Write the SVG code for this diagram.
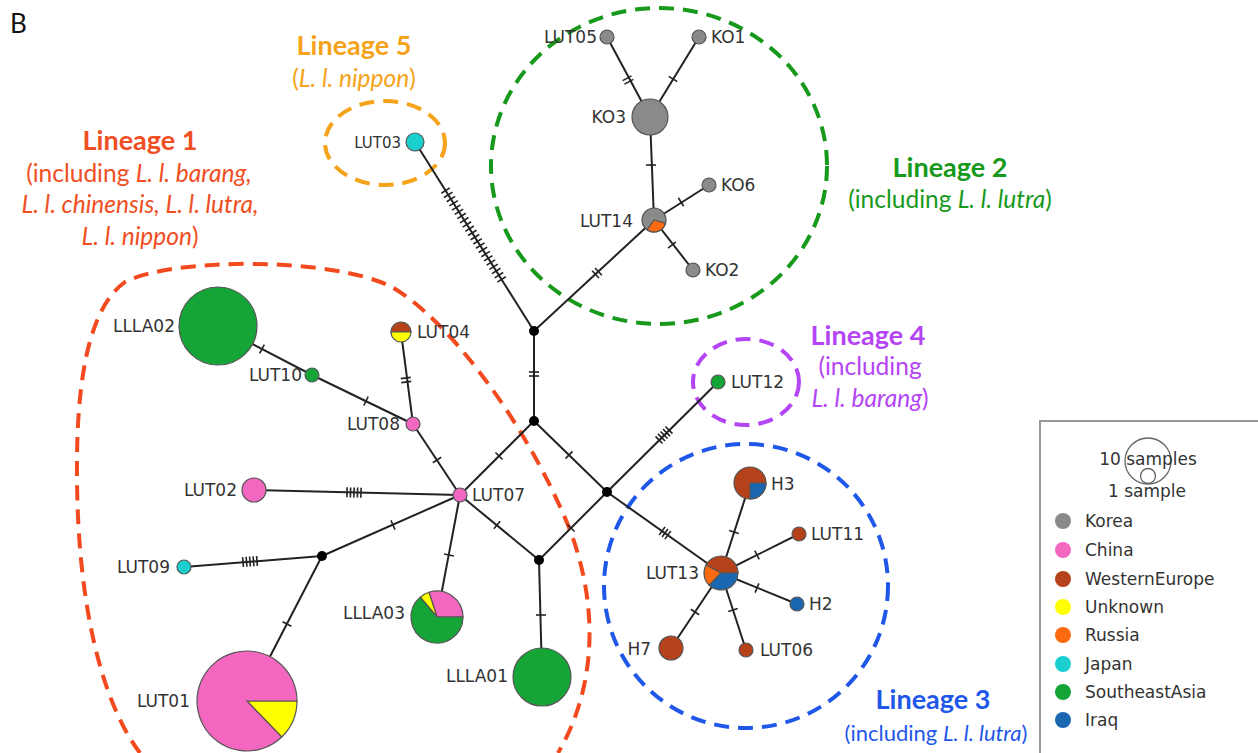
<svg xmlns="http://www.w3.org/2000/svg" xmlns:xlink="http://www.w3.org/1999/xlink" width="1258" height="753" viewBox="0 0 1258 753">
  <style>
    .edge { stroke: #222; stroke-width: 2; fill: none; }
    .tk line { stroke: #222; stroke-width: 1.6; }
    .nd { stroke: #555; stroke-width: 1.2; }
    .jn { fill: #000; }
    .lbl { font-family: "DejaVu Sans", Verdana, sans-serif; font-size: 17px; fill: #333; }
    .lbl.small { font-size: 15px; }
    .title { font-family: Lato, "Open Sans", sans-serif; font-weight: bold; font-size: 27px; text-anchor: middle; }
    .sub { font-family: Lato, "Open Sans", sans-serif; font-size: 24.5px; text-anchor: middle; }
    .sub.narrow { font-size: 22px; }
    .it { font-style: italic; }
    .ring { fill: none; stroke-width: 4; stroke-dasharray: 15 9; }
    .korea { fill: #8a8a8a; }
    .china { fill: #f467c0; }
    .weu { fill: #b5421b; }
    .unk { fill: #ffff00; }
    .rus { fill: #fd6a10; }
    .jpn { fill: #1ccfcf; }
    .sea { fill: #15a537; }
    .irq { fill: #1a66b0; }
  </style>
  <defs>
    <g id="t1" class="tk"><line x1="0" y1="-5" x2="0" y2="5"/></g>
    <g id="t2" class="tk"><line x1="-2" y1="-5" x2="-2" y2="5"/><line x1="2" y1="-5" x2="2" y2="5"/></g>
    <g id="t3" class="tk"><line x1="-3.5" y1="-5" x2="-3.5" y2="5"/><line x1="0" y1="-5" x2="0" y2="5"/><line x1="3.5" y1="-5" x2="3.5" y2="5"/></g>
    <g id="t5" class="tk"><line x1="-7" y1="-5" x2="-7" y2="5"/><line x1="-3.5" y1="-5" x2="-3.5" y2="5"/><line x1="0" y1="-5" x2="0" y2="5"/><line x1="3.5" y1="-5" x2="3.5" y2="5"/><line x1="7" y1="-5" x2="7" y2="5"/></g>
  </defs>

  <rect width="1258" height="753" fill="#fff"/>

  <text x="10" y="33" font-family="Lato, 'Open Sans', sans-serif" font-size="26" fill="#111">B</text>

  <!-- lineage outlines -->
  <g id="lineage-outlines">
    <path class="ring" stroke="#f24a1e" d="M140,753 C100,700 78,600 77,480 C76,390 86,310 125,282 C170,258 330,256 392,287 C452,322 530,430 570,530 C600,610 595,690 558,753"/>
    <ellipse class="ring" stroke="#f5a31a" cx="385" cy="143" rx="60" ry="42"/>
    <ellipse class="ring" stroke="#17991c" cx="659" cy="166" rx="168" ry="158"/>
    <ellipse class="ring" stroke="#b445f5" cx="746" cy="382" rx="53" ry="43"/>
    <ellipse class="ring" stroke="#1f57e8" cx="746" cy="586" rx="142" ry="142"/>
  </g>

  <!-- lineage captions -->
  <g id="lineage-labels">
    <text class="title" x="354" y="55" fill="#f5a31a">Lineage 5</text>
    <text class="sub" x="354" y="87" fill="#f5a31a">(<tspan class="it">L. l. nippon</tspan>)</text>

    <text class="title" x="140" y="150" fill="#f04e23">Lineage 1</text>
    <text class="sub" x="139" y="182" fill="#f04e23">(including <tspan class="it">L. l. barang,</tspan></text>
    <text class="sub it" x="140" y="213" fill="#f04e23">L. l. chinensis, L. l. lutra,</text>
    <text class="sub" x="140" y="245" fill="#f04e23"><tspan class="it">L. l. nippon</tspan>)</text>

    <text class="title" x="950" y="177" fill="#17991c">Lineage 2</text>
    <text class="sub" x="950" y="208" fill="#17991c">(including  <tspan class="it">L. l. lutra</tspan>)</text>

    <text class="title" x="868" y="345" fill="#b445f5">Lineage 4</text>
    <text class="sub" x="870" y="375" fill="#b445f5">(including</text>
    <text class="sub" x="870" y="407" fill="#b445f5"><tspan class="it">L. l. barang</tspan>)</text>

    <text class="title" x="933" y="709" fill="#1f57e8">Lineage 3</text>
    <text class="sub narrow" x="936" y="741" fill="#1f57e8">(including <tspan class="it">L. l. lutra</tspan>)</text>
  </g>

  <!-- connectors with mutation ticks -->
  <g id="connectors">
    <line class="edge" x1="415" y1="142" x2="534" y2="331"/>
    <line class="edge" x1="534" y1="331" x2="654" y2="220"/>
    <line class="edge" x1="654" y1="220" x2="650" y2="117"/>
    <line class="edge" x1="650" y1="117" x2="607" y2="37"/>
    <line class="edge" x1="650" y1="117" x2="699" y2="37"/>
    <line class="edge" x1="654" y1="220" x2="709" y2="185"/>
    <line class="edge" x1="654" y1="220" x2="693" y2="270"/>
    <line class="edge" x1="534" y1="331" x2="534" y2="421"/>
    <line class="edge" x1="534" y1="421" x2="607" y2="492"/>
    <line class="edge" x1="534" y1="421" x2="460" y2="495"/>
    <line class="edge" x1="607" y1="492" x2="539" y2="560"/>
    <line class="edge" x1="460" y1="495" x2="539" y2="560"/>
    <line class="edge" x1="607" y1="492" x2="718" y2="382"/>
    <line class="edge" x1="607" y1="492" x2="721" y2="573"/>
    <line class="edge" x1="539" y1="560" x2="542" y2="677"/>
    <line class="edge" x1="721" y1="573" x2="750" y2="483"/>
    <line class="edge" x1="721" y1="573" x2="799" y2="534"/>
    <line class="edge" x1="721" y1="573" x2="797" y2="604"/>
    <line class="edge" x1="721" y1="573" x2="746" y2="650"/>
    <line class="edge" x1="721" y1="573" x2="671" y2="648"/>
    <line class="edge" x1="460" y1="495" x2="413" y2="424"/>
    <line class="edge" x1="413" y1="424" x2="401" y2="332"/>
    <line class="edge" x1="413" y1="424" x2="312" y2="375"/>
    <line class="edge" x1="312" y1="375" x2="218" y2="326"/>
    <line class="edge" x1="460" y1="495" x2="254" y2="490"/>
    <line class="edge" x1="460" y1="495" x2="322" y2="556"/>
    <line class="edge" x1="460" y1="495" x2="437" y2="617"/>
    <line class="edge" x1="322" y1="556" x2="184" y2="567"/>
    <line class="edge" x1="322" y1="556" x2="247" y2="701"/>

    <!-- long run of ticks toward LUT03 -->
    <g class="tk" transform="translate(473.6,235) rotate(57.8)">
      <line x1="-52.5" y1="-5" x2="-52.5" y2="5"/><line x1="-47.5" y1="-5" x2="-47.5" y2="5"/>
      <line x1="-42.5" y1="-5" x2="-42.5" y2="5"/><line x1="-37.5" y1="-5" x2="-37.5" y2="5"/>
      <line x1="-32.5" y1="-5" x2="-32.5" y2="5"/><line x1="-27.5" y1="-5" x2="-27.5" y2="5"/>
      <line x1="-22.5" y1="-5" x2="-22.5" y2="5"/><line x1="-17.5" y1="-5" x2="-17.5" y2="5"/>
      <line x1="-12.5" y1="-5" x2="-12.5" y2="5"/><line x1="-7.5" y1="-5" x2="-7.5" y2="5"/>
      <line x1="-2.5" y1="-5" x2="-2.5" y2="5"/><line x1="2.5" y1="-5" x2="2.5" y2="5"/>
      <line x1="7.5" y1="-5" x2="7.5" y2="5"/><line x1="12.5" y1="-5" x2="12.5" y2="5"/>
      <line x1="17.5" y1="-5" x2="17.5" y2="5"/><line x1="22.5" y1="-5" x2="22.5" y2="5"/>
      <line x1="27.5" y1="-5" x2="27.5" y2="5"/><line x1="32.5" y1="-5" x2="32.5" y2="5"/>
      <line x1="37.5" y1="-5" x2="37.5" y2="5"/><line x1="42.5" y1="-5" x2="42.5" y2="5"/>
      <line x1="47.5" y1="-5" x2="47.5" y2="5"/><line x1="52.5" y1="-5" x2="52.5" y2="5"/>
    </g>
    <use href="#t2" transform="translate(597,273) rotate(-42.8)"/>
    <use href="#t1" transform="translate(651,165) rotate(90)"/>
    <use href="#t2" transform="translate(628,80) rotate(61.7)"/>
    <use href="#t1" transform="translate(673,79) rotate(-58.5)"/>
    <use href="#t1" transform="translate(681,202) rotate(-32.5)"/>
    <use href="#t1" transform="translate(672,245) rotate(52)"/>
    <use href="#t2" transform="translate(534,374) rotate(90)"/>
    <use href="#t1" transform="translate(569,455) rotate(44.2)"/>
    <use href="#t1" transform="translate(499,456) rotate(135)"/>
    <use href="#t1" transform="translate(571,528) rotate(135)"/>
    <use href="#t1" transform="translate(497,525) rotate(39.4)"/>
    <use href="#t5" transform="translate(664,435) rotate(-44.7)"/>
    <use href="#t3" transform="translate(665,533) rotate(35.7)"/>
    <use href="#t1" transform="translate(541,615) rotate(90)"/>
    <use href="#t1" transform="translate(734,532) rotate(-72)"/>
    <use href="#t1" transform="translate(757,555) rotate(-26.6)"/>
    <use href="#t1" transform="translate(757,588) rotate(22.2)"/>
    <use href="#t1" transform="translate(733,610) rotate(72)"/>
    <use href="#t1" transform="translate(695,612) rotate(123.7)"/>
    <use href="#t1" transform="translate(437,460) rotate(56.5)"/>
    <use href="#t2" transform="translate(406,380) rotate(-97.4)"/>
    <use href="#t1" transform="translate(366,401) rotate(25.9)"/>
    <use href="#t1" transform="translate(262,349) rotate(27.5)"/>
    <use href="#t5" transform="translate(354,492.5) rotate(1.4)"/>
    <use href="#t1" transform="translate(393,525) rotate(156)"/>
    <use href="#t1" transform="translate(449,555) rotate(100.7)"/>
    <use href="#t5" transform="translate(250,561.5) rotate(175.4)"/>
    <use href="#t1" transform="translate(287,624) rotate(117.4)"/>
  </g>

  <!-- median vectors -->
  <g id="junctions">
    <circle class="jn" cx="534" cy="331" r="5"/>
    <circle class="jn" cx="534" cy="421" r="5"/>
    <circle class="jn" cx="607" cy="492" r="5"/>
    <circle class="jn" cx="539" cy="560" r="5"/>
    <circle class="jn" cx="322" cy="556" r="5"/>
  </g>

  <!-- haplotypes -->
  <g id="LUT03"><circle class="nd jpn" cx="415" cy="142" r="9"/><text class="lbl small" x="401" y="148" text-anchor="end">LUT03</text></g>
  <g id="LUT05"><circle class="nd korea" cx="607" cy="37" r="7"/><text class="lbl" x="597" y="43" text-anchor="end">LUT05</text></g>
  <g id="KO1"><circle class="nd korea" cx="699" cy="37" r="7"/><text class="lbl" x="711" y="43">KO1</text></g>
  <g id="KO3"><circle class="nd korea" cx="650" cy="117" r="18"/><text class="lbl" x="626" y="123" text-anchor="end">KO3</text></g>
  <g id="KO6"><circle class="nd korea" cx="709" cy="185" r="7"/><text class="lbl" x="721" y="191">KO6</text></g>
  <g id="LUT14">
    <circle class="nd korea" cx="654" cy="220" r="12"/>
    <path class="nd rus" d="M654,220 L665.6,223.1 A12,12 0 0 1 647.1,229.8 Z"/>
    <text class="lbl" x="633" y="227" text-anchor="end">LUT14</text>
  </g>
  <g id="KO2"><circle class="nd korea" cx="693" cy="270" r="7"/><text class="lbl" x="705" y="276">KO2</text></g>
  <g id="LUT12"><circle class="nd sea" cx="718" cy="382" r="7"/><text class="lbl" x="731" y="388">LUT12</text></g>
  <g id="LLLA02"><circle class="nd sea" cx="218" cy="326" r="39"/><text class="lbl" x="175" y="332" text-anchor="end">LLLA02</text></g>
  <g id="LUT10"><circle class="nd sea" cx="312" cy="375" r="7"/><text class="lbl" x="302" y="381" text-anchor="end">LUT10</text></g>
  <g id="LUT04">
    <path class="nd weu" d="M391,332 A10,10 0 0 1 411,332 Z"/>
    <path class="nd unk" d="M411,332 A10,10 0 0 1 391,332 Z"/>
    <text class="lbl" x="417" y="338">LUT04</text>
  </g>
  <g id="LUT08"><circle class="nd china" cx="413" cy="424" r="7"/><text class="lbl" x="400" y="430" text-anchor="end">LUT08</text></g>
  <g id="LUT07"><circle class="nd china" cx="460" cy="495" r="7"/><text class="lbl" x="472" y="501">LUT07</text></g>
  <g id="LUT02"><circle class="nd china" cx="254" cy="490" r="12"/><text class="lbl" x="237" y="496" text-anchor="end">LUT02</text></g>
  <g id="LUT09"><circle class="nd jpn" cx="184" cy="567" r="7"/><text class="lbl" x="170" y="573" text-anchor="end">LUT09</text></g>
  <g id="LLLA03">
    <path class="nd china" d="M437,617 L463,617 A26,26 0 0 0 429,592.3 Z"/>
    <path class="nd unk" d="M437,617 L429,592.3 A26,26 0 0 0 420.3,597.1 Z"/>
    <path class="nd sea" d="M437,617 L420.3,597.1 A26,26 0 1 0 463,617 Z"/>
    <text class="lbl" x="405" y="619" text-anchor="end">LLLA03</text>
  </g>
  <g id="LLLA01"><circle class="nd sea" cx="542" cy="677" r="29"/><text class="lbl" x="508" y="682" text-anchor="end">LLLA01</text></g>
  <g id="LUT01">
    <path class="nd unk" d="M247,701 L297,701 A50,50 0 0 1 281.7,737 Z"/>
    <path class="nd china" d="M247,701 L281.7,737 A50,50 0 1 1 297,701 Z"/>
    <text class="lbl" x="190" y="707" text-anchor="end">LUT01</text>
  </g>
  <g id="LUT13">
    <path class="nd weu" d="M721,573 L738,573 A17,17 0 0 0 706,565 Z"/>
    <path class="nd rus" d="M721,573 L706,565 A17,17 0 0 0 709.2,585.2 Z"/>
    <path class="nd irq" d="M721,573 L709.2,585.2 A17,17 0 0 0 738,573 Z"/>
    <text class="lbl" x="699" y="579" text-anchor="end">LUT13</text>
  </g>
  <g id="H3">
    <circle class="nd weu" cx="750" cy="483" r="16"/>
    <path class="nd irq" d="M750,483 L766,483 A16,16 0 0 1 750,499 Z"/>
    <text class="lbl" x="771" y="490">H3</text>
  </g>
  <g id="LUT11"><circle class="nd weu" cx="799" cy="534" r="7"/><text class="lbl" x="811" y="540">LUT11</text></g>
  <g id="H2"><circle class="nd irq" cx="797" cy="604" r="7"/><text class="lbl" x="809" y="610">H2</text></g>
  <g id="LUT06"><circle class="nd weu" cx="746" cy="650" r="7"/><text class="lbl" x="760" y="656">LUT06</text></g>
  <g id="H7"><circle class="nd weu" cx="671" cy="648" r="12"/><text class="lbl" x="651" y="655" text-anchor="end">H7</text></g>

  <!-- key -->
  <g id="legend">
    <rect x="1040" y="421" width="230" height="340" fill="#fff" stroke="#999" stroke-width="2"/>
    <circle cx="1148" cy="461" r="23" fill="none" stroke="#666" stroke-width="1.3"/>
    <circle cx="1148" cy="476" r="7.5" fill="none" stroke="#666" stroke-width="1.3"/>
    <text class="lbl" x="1148" y="465" text-anchor="middle">10 samples</text>
    <text class="lbl" x="1147" y="497" text-anchor="middle">1 sample</text>
    <circle class="korea" cx="1063" cy="521" r="8"/><text class="lbl" x="1085" y="527">Korea</text>
    <circle class="china" cx="1063" cy="550" r="8"/><text class="lbl" x="1085" y="556">China</text>
    <circle class="weu" cx="1063" cy="579" r="8"/><text class="lbl" x="1085" y="585">WesternEurope</text>
    <circle class="unk" cx="1063" cy="607" r="8"/><text class="lbl" x="1085" y="613">Unknown</text>
    <circle class="rus" cx="1063" cy="635" r="8"/><text class="lbl" x="1085" y="641">Russia</text>
    <circle class="jpn" cx="1063" cy="664" r="8"/><text class="lbl" x="1085" y="670">Japan</text>
    <circle class="sea" cx="1063" cy="692" r="8"/><text class="lbl" x="1085" y="698">SoutheastAsia</text>
    <circle class="irq" cx="1063" cy="720" r="8"/><text class="lbl" x="1085" y="726">Iraq</text>
  </g>
</svg>
